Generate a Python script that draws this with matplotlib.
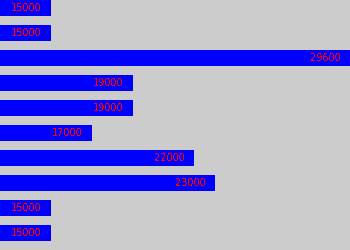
import matplotlib
matplotlib.use('Agg')
import matplotlib.pyplot as plt

values = [15000, 15000, 29600, 19000, 19000, 17000, 22000, 23000, 15000, 15000]
labels = [str(v) for v in values]

plt.rcParams['text.antialiased'] = False

fig = plt.figure(figsize=(3.5, 2.5), dpi=100)
fig.patch.set_facecolor('#cccccc')
ax = fig.add_axes([0, 0, 1, 1])
ax.set_facecolor('#cccccc')

pos = list(range(len(values)))
ax.barh(pos, values, height=0.64, color='#0000ff', left=0)
for p, v, t in zip(pos, values, labels):
    ax.annotate(t, (v, p), xytext=(-6.5, 0), textcoords='offset points',
                ha='right', va='center', color='#ff0000', fontsize=7)

ax.set_xlim(12500, 29600)
ax.set_ylim(9.68, -0.32)
ax.axis('off')

fig.savefig('out.png', dpi=100, facecolor='#cccccc')
